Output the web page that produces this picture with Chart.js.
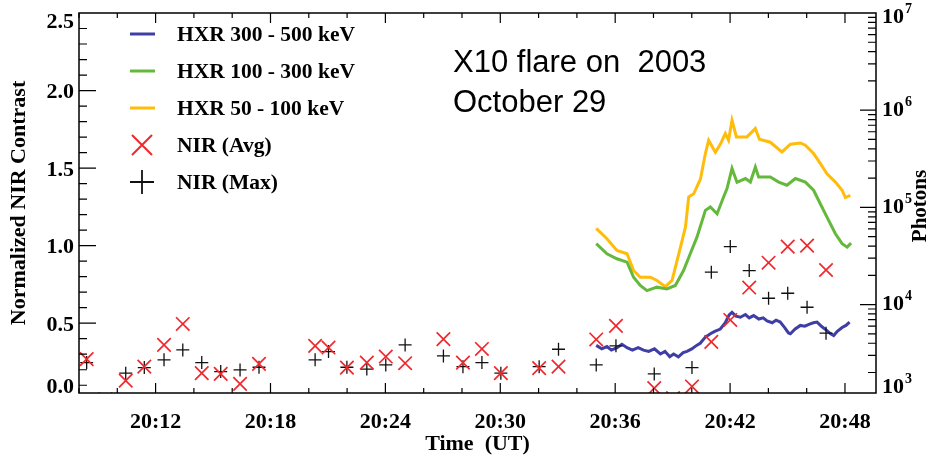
<!DOCTYPE html>
<html>
<head>
<meta charset="utf-8">
<script src="https://cdn.jsdelivr.net/npm/chart.js@4.4.0/dist/chart.umd.min.js"></script>
<style>
  html, body { margin: 0; padding: 0; background: #fff; }
  canvas { display: block; }
</style>
</head>
<body>
<canvas id="flareChart" width="931" height="459"></canvas>
<script>
// times are minutes after 20:00 UT
const nirTime = [8.40, 9.38, 10.44, 11.41, 12.44, 13.42, 14.41, 15.40, 16.41, 17.40,
  20.33, 21.03, 21.99, 23.03, 24.02, 25.03, 27.03, 28.05, 29.04, 30.03, 32.03, 33.04,
  35.01, 36.04, 38.04, 39.02, 40.01, 41.02, 42.01, 43.00, 44.01, 45.01, 46.02, 47.01];
const nirAvg = [0.268, 0.01, 0.130, 0.22, 0.36, 0.495, 0.178, 0.173, 0.109, 0.238,
  0.354, 0.343, 0.214, 0.246, 0.285, 0.242, 0.397, 0.246, 0.334, 0.178, 0.21, 0.22,
  0.395, 0.483, 0.081, 0.017, 0.092, 0.38, 0.521, 0.73, 0.89, 0.994, 1.0, 0.843];
const nirMax = [0.246, null, 0.178, 0.214, 0.264, 0.328, 0.246, 0.188, 0.199, 0.216,
  0.264, 0.317, 0.216, 0.204, 0.231, 0.36, 0.289, 0.22, 0.246, 0.178, 0.22, 0.332,
  0.231, 0.354, 0.173, 0.0, 0.214, 0.829, 0.994, 0.839, 0.661, 0.693, 0.603, 0.436];

// HXR photons (right axis)
const hxr300Time = [35.01, 35.3, 35.57, 35.8, 36.1, 36.35, 36.62, 36.9, 37.2, 37.48, 37.75,
  38.05, 38.36, 38.6, 38.85, 39.05, 39.3, 39.55, 39.75, 40.0, 40.25, 40.44, 40.7, 40.97,
  41.2, 41.49, 41.75, 41.95, 42.1, 42.3, 42.54, 42.8, 43.0, 43.23, 43.5, 43.73, 43.93,
  44.2, 44.4, 44.62, 44.85, 45.05, 45.15, 45.4, 45.67, 45.9, 46.15, 46.35, 46.54, 46.8,
  47.06, 47.25, 47.41, 47.6, 47.85, 48.05, 48.24];
const hxr300 = [3800, 3500, 3700, 3400, 3600, 3900, 3600, 3400, 3600, 3400, 3300,
  3500, 3100, 3300, 2900, 3100, 2900, 3200, 3300, 3500, 3800, 4000, 4600, 5000,
  5300, 5600, 6500, 7800, 8300, 7600, 7400, 7900, 7300, 7700, 7100, 7300, 6800,
  6500, 6900, 6600, 5800, 5100, 5000, 5600, 6100, 6000, 6300, 6500, 6600, 5900,
  5400, 5000, 4800, 5300, 5800, 6100, 6600];

const hxr100Time = [35.01, 35.57, 36.09, 36.62, 36.96, 37.31, 37.66, 38.18, 38.70, 39.14,
  39.57, 39.92, 40.27, 40.71, 40.97, 41.32, 41.66, 41.84, 42.10, 42.36, 42.80, 43.06,
  43.32, 43.49, 44.10, 44.54, 44.97, 45.41, 45.93, 46.36, 46.71, 47.06, 47.50, 47.85,
  48.11, 48.32];
const hxr100 = [42300, 33300, 29600, 27300, 19100, 15700, 13900, 15100, 14500, 15700,
  22400, 33300, 49400, 93100, 101000, 86100, 128000, 156000, 251000, 181000, 198000, 182000,
  260000, 205000, 205000, 182000, 169000, 198000, 182000, 150000, 109000, 79400, 53500, 42300,
  39000, 42900];

const hxr50Time = [35.01, 35.57, 36.09, 36.62, 36.96, 37.31, 37.84, 38.18, 38.62, 38.97,
  39.41, 39.67, 39.84, 40.10, 40.45, 40.71, 40.88, 41.23, 41.49, 41.75, 41.92, 42.10,
  42.33, 42.88, 43.32, 43.53, 44.10, 44.71, 45.15, 45.67, 45.93, 46.36, 46.71, 47.06,
  47.50, 47.85, 48.02, 48.28];
const hxr50 = [60700, 47500, 36100, 33300, 22400, 19100, 19100, 17700, 15300, 17700,
  39000, 62700, 128000, 138000, 195000, 358000, 491000, 369000, 446000, 575000, 491000, 789000,
  531000, 531000, 647000, 502000, 468000, 372000, 446000, 460000, 436000, 358000, 283000, 222000,
  182000, 150000, 126000, 133000];

const timeTicks = [12, 18, 24, 30, 36, 42, 48];
const contrastLabels = [0, 0.5, 1.0, 1.5, 2.0, 2.5];
const photonExponents = [3, 4, 5, 6, 7];
const titleLines = ['X10 flare on  2003', 'October 29'];

const SERIF = "'Liberation Serif', 'Times New Roman', serif";
const pts = (t, v) => t.map((x, i) => ({ x: x, y: v[i] }));

const datasets = [
  { label: 'HXR 300 - 500 keV', type: 'line', data: pts(hxr300Time, hxr300), yAxisID: 'y1',
    borderColor: 'rgb(62,62,165)', borderWidth: 3, pointRadius: 0, order: 2, clip: 0 },
  { label: 'HXR 100 - 300 keV', type: 'line', data: pts(hxr100Time, hxr100), yAxisID: 'y1',
    borderColor: 'rgb(100,185,60)', borderWidth: 3, pointRadius: 0, order: 2, clip: 0 },
  { label: 'HXR 50 - 100 keV', type: 'line', data: pts(hxr50Time, hxr50), yAxisID: 'y1',
    borderColor: 'rgb(255,188,10)', borderWidth: 3, pointRadius: 0, order: 2, clip: 0 },
  { label: 'NIR (Avg)', type: 'scatter', data: pts(nirTime, nirAvg), yAxisID: 'y',
    pointStyle: 'crossRot', pointRadius: 9.5, pointBorderWidth: 1.7, borderColor: 'rgb(240,40,45)',
    order: 0, clip: 0 },
  { label: 'NIR (Max)', type: 'scatter', data: pts(nirTime, nirMax), yAxisID: 'y',
    pointStyle: 'cross', pointRadius: 6.5, pointBorderWidth: 1.3, borderColor: '#111',
    order: 1, clip: 0 }
];

const decor = {
  id: 'decor',
  afterDraw(chart) {
    const { ctx, chartArea: a, scales } = chart;
    const x = scales.x, y = scales.y, y1 = scales.y1;
    const clamp = (v, lo, hi) => Math.max(lo, Math.min(hi, v));
    ctx.save();
    ctx.strokeStyle = '#000';
    ctx.lineWidth = 1.5;
    ctx.strokeRect(a.left, a.top, a.right - a.left, a.bottom - a.top);

    // inward ticks
    ctx.lineWidth = 1.2;
    ctx.beginPath();
    for (let m = 8; m <= 49; m += 2) {
      const px = x.getPixelForValue(m);
      const len = m % 6 === 0 ? 10 : 5;
      ctx.moveTo(px, a.bottom); ctx.lineTo(px, a.bottom - len);
      ctx.moveTo(px, a.top); ctx.lineTo(px, a.top + len);
    }
    for (let i = 1; i < 25; i++) {
      const py = y.getPixelForValue(i / 10);
      ctx.moveTo(a.left, py); ctx.lineTo(a.left + (i % 5 === 0 ? 17 : 8), py);
    }
    for (let d = 3; d < 7; d++) {
      for (let k = 1; k < 10; k++) {
        const v = k * Math.pow(10, d);
        if (v < y1.min) continue;
        const py = y1.getPixelForValue(v);
        ctx.moveTo(a.right, py); ctx.lineTo(a.right - (k === 1 ? 16 : 8), py);
      }
    }
    ctx.stroke();

    // axis labels
    ctx.fillStyle = '#000';
    ctx.font = 'bold 22px ' + SERIF;
    ctx.textAlign = 'right';
    ctx.textBaseline = 'middle';
    contrastLabels.forEach(v => {
      const py = clamp(y.getPixelForValue(v) + 2, a.top + 9, a.bottom - 6);
      ctx.fillText(v.toFixed(1), a.left - 5, py);
    });
    ctx.textAlign = 'left';
    photonExponents.forEach(e => {
      const py = clamp(y1.getPixelForValue(Math.pow(10, e)), a.top + 4, a.bottom - 6);
      ctx.font = 'bold 22px ' + SERIF;
      ctx.fillText('10', a.right + 6, py);
      const w = ctx.measureText('10').width;
      ctx.font = 'bold 14px ' + SERIF;
      ctx.fillText(String(e), a.right + 7 + w, py - 8);
    });
    ctx.save();
    ctx.translate(921, 206);
    ctx.rotate(-Math.PI / 2);
    ctx.textAlign = 'center';
    ctx.font = 'bold 21px ' + SERIF;
    ctx.fillText('Photons', 0, 0);
    ctx.restore();

    // legend
    ctx.font = 'bold 21.5px ' + SERIF;
    ctx.textAlign = 'left';
    chart.data.datasets.forEach((ds, i) => {
      const ly = 34 + i * 37;
      ctx.strokeStyle = ds.borderColor;
      if (ds.type === 'line') {
        ctx.lineWidth = 3;
        ctx.beginPath(); ctx.moveTo(130, ly); ctx.lineTo(155, ly); ctx.stroke();
      } else if (ds.pointStyle === 'crossRot') {
        ctx.lineWidth = 2;
        ctx.beginPath();
        ctx.moveTo(132, ly - 10); ctx.lineTo(152, ly + 10);
        ctx.moveTo(152, ly - 10); ctx.lineTo(132, ly + 10);
        ctx.stroke();
      } else {
        ctx.lineWidth = 1.8;
        ctx.beginPath();
        ctx.moveTo(130, ly); ctx.lineTo(154, ly);
        ctx.moveTo(142, ly - 12); ctx.lineTo(142, ly + 12);
        ctx.stroke();
      }
      ctx.fillStyle = '#000';
      ctx.fillText(ds.label, 177, ly + 1);
    });

    // annotation
    ctx.font = "31px 'Liberation Sans', Arial, sans-serif";
    titleLines.forEach((t, i) => ctx.fillText(t, 453, 63 + i * 40));
    ctx.restore();
  }
};

new Chart(document.getElementById('flareChart'), {
  data: { datasets: datasets },
  options: {
    responsive: false,
    devicePixelRatio: 1,
    animation: false,
    layout: { padding: { top: 13, left: 0, right: 0, bottom: 0 } },
    plugins: { legend: { display: false }, tooltip: { enabled: false } },
    scales: {
      x: {
        type: 'linear', position: 'bottom', min: 8, max: 49.62,
        afterBuildTicks: s => { s.ticks = timeTicks.map(v => ({ value: v })); },
        afterFit: s => { s.height = 66; },
        grid: { display: false, drawTicks: false },
        border: { display: false },
        ticks: {
          color: '#000', padding: 16, maxRotation: 0,
          font: { family: SERIF, size: 22, weight: 'bold' },
          callback: v => '20:' + String(v).padStart(2, '0')
        },
        title: {
          display: true, text: 'Time  (UT)', color: '#000',
          font: { family: SERIF, size: 22, weight: 'bold' },
          padding: { top: 0, bottom: 1 }
        }
      },
      y: {
        type: 'linear', position: 'left', min: 0.05, max: 2.5,
        afterFit: s => { s.width = 79; },
        grid: { display: false, drawTicks: false },
        border: { display: false },
        ticks: { display: false },
        title: {
          display: true, text: 'Normalized NIR Contrast', color: '#000',
          font: { family: SERIF, size: 22, weight: 'bold' },
          padding: { top: 6, bottom: 0 }
        }
      },
      y1: {
        type: 'logarithmic', position: 'right', min: 1230, max: 1e7,
        afterFit: s => { s.width = 55; },
        grid: { display: false, drawTicks: false },
        border: { display: false },
        ticks: { display: false }
      }
    }
  },
  plugins: [decor]
});
</script>
</body>
</html>
